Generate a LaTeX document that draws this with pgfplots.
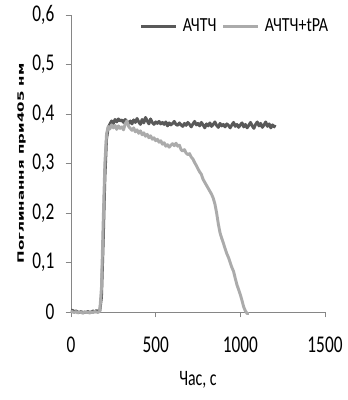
\documentclass[border=0pt]{standalone}
\usepackage{pgfplots}
\pgfplotsset{compat=1.18}
\usepackage{fontspec}
\setmainfont{Carlito}
\newfontfamily\calf[FakeStretch=0.72]{Carlito}
\newfontfamily\legf[FakeStretch=0.8]{Carlito}
\newfontfamily\ylabfont{DejaVu Sans}
\definecolor{darkser}{HTML}{595959}
\definecolor{lightser}{HTML}{ABABAB}
\definecolor{axgray}{HTML}{868686}
\pgfplotstableread{
x y
0 0.004
10 0.003
20 0.001
30 0.002
40 0.000
50 -0.001
60 0.001
70 -0.002
80 0.000
90 -0.001
100 0.001
110 -0.001
120 0.000
130 0.002
140 0.000
150 0.003
160 0.001
170 0.002
180 0.030
190 0.140
200 0.270
210 0.350
220 0.372
230 0.380
240 0.386
250 0.381
260 0.389
270 0.384
280 0.390
290 0.386
300 0.388
310 0.383
320 0.389
330 0.385
340 0.381
350 0.386
360 0.380
370 0.388
380 0.383
390 0.391
400 0.384
410 0.379
420 0.389
430 0.382
440 0.393
450 0.386
460 0.380
470 0.390
480 0.383
490 0.379
500 0.384
510 0.381
520 0.385
530 0.380
540 0.383
550 0.379
560 0.384
570 0.376
580 0.382
590 0.378
600 0.381
610 0.385
620 0.379
630 0.377
640 0.382
650 0.378
660 0.375
670 0.381
680 0.377
690 0.383
700 0.379
710 0.374
720 0.380
730 0.385
740 0.378
750 0.381
760 0.376
770 0.383
780 0.378
790 0.372
800 0.380
810 0.376
820 0.382
830 0.375
840 0.379
850 0.384
860 0.377
870 0.373
880 0.381
890 0.376
900 0.379
910 0.374
920 0.380
930 0.377
940 0.372
950 0.378
960 0.383
970 0.375
980 0.379
990 0.373
1000 0.378
1010 0.382
1020 0.374
1030 0.379
1040 0.372
1050 0.377
1060 0.383
1070 0.376
1080 0.371
1090 0.379
1100 0.384
1110 0.376
1120 0.381
1130 0.373
1140 0.378
1150 0.384
1160 0.375
1170 0.380
1180 0.372
1190 0.378
1200 0.374
1205 0.378
}\darktab
\pgfplotstableread{
x y
0 0.002
10 0.000
20 -0.001
30 0.001
40 -0.002
50 0.000
60 -0.001
70 -0.002
80 0.000
90 -0.001
100 0.000
110 -0.002
120 0.000
130 -0.001
140 0.001
150 0.000
160 -0.001
170 0.002
180 0.050
190 0.180
200 0.300
210 0.360
220 0.375
230 0.370
240 0.378
250 0.372
260 0.377
270 0.369
280 0.376
290 0.371
300 0.374
310 0.368
320 0.380
330 0.386
340 0.375
350 0.371
360 0.367
370 0.372
380 0.364
390 0.368
400 0.361
410 0.366
420 0.358
430 0.362
440 0.355
450 0.359
460 0.352
470 0.356
480 0.349
490 0.352
500 0.346
510 0.349
520 0.343
530 0.346
540 0.339
550 0.342
560 0.335
570 0.338
580 0.333
590 0.337
600 0.340
610 0.336
620 0.341
630 0.335
640 0.337
650 0.328
660 0.325
670 0.328
680 0.321
690 0.318
700 0.320
710 0.313
720 0.309
730 0.302
740 0.296
750 0.289
760 0.283
770 0.278
780 0.268
790 0.262
800 0.256
810 0.250
820 0.244
830 0.238
840 0.230
850 0.218
860 0.200
870 0.178
880 0.160
890 0.149
900 0.139
910 0.128
920 0.118
930 0.110
940 0.100
950 0.090
960 0.082
970 0.068
980 0.055
990 0.045
1000 0.035
1010 0.023
1020 0.010
1030 0.002
1040 -0.003
1050 -0.003
}\lighttab
\begin{document}
\begin{tikzpicture}
\begin{axis}[
  name=main,
  scale only axis,
  width=190.5pt, height=222.75pt,
  xmin=0, xmax=1500, ymin=0, ymax=0.6,
  xtick={0,500,1000,1500},
  ytick={0,0.1,0.2,0.3,0.4,0.5,0.6},
  axis x line=bottom, axis y line=left,
  axis line style={draw=axgray, line width=0.6pt, -},
  tick style={draw=axgray, line width=0.6pt},
  tick align=outside,
  major tick length=4pt,
  clip=false,
  /pgf/number format/assume math mode=true,
  /pgf/number format/use comma,
  /pgf/number format/1000 sep={},
  y tick label style={/pgf/number format/fixed, /pgf/number format/precision=1},
  tick label style={font=\calf\fontsize{18}{21}\selectfont},
  x tick label style={yshift=-11pt},
  y tick label style={xshift=-5pt},
  xlabel={Час, с},
  xlabel style={font=\calf\fontsize{16.5}{19}\selectfont, yshift=-7pt},
  ylabel={\scalebox{1}[0.58]{\ylabfont\bfseries Поглинання при405 нм}},
  ylabel style={font=\fontsize{11.3}{13}\selectfont, at={(axis description cs:-0.195,0.5)}, anchor=center},
  legend columns=2,
  legend style={draw=none, fill=none, at={(axis description cs:1.04,1.005)}, anchor=north east,
    font=\legf\fontsize{15}{17}\selectfont, column sep=2pt},
  legend image code/.code={\draw[#1] (0pt,0pt) -- (26pt,0pt);},
]
\addplot[darkser, line width=2.2pt, line join=round] table[x=x,y=y] {\darktab};
\addlegendentry{АЧТЧ}
\addplot[lightser, line width=2.2pt, line join=round] table[x=x,y=y] {\lighttab};
\addlegendentry{АЧТЧ+tPA}
\end{axis}
\pgfresetboundingbox
\path (main.south west) ++(-53.25pt,-66pt) coordinate (bbA);
\path (main.north east) ++(16.5pt,11.25pt) coordinate (bbB);
\useasboundingbox (bbA) rectangle (bbB);
\end{tikzpicture}
\end{document}
